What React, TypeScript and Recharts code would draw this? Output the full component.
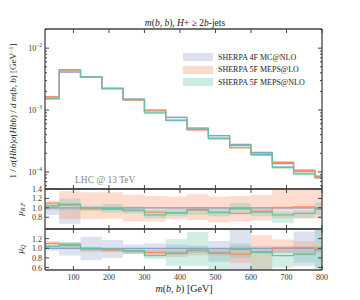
import React from "react";
import { Area, ComposedChart, Legend, Line, XAxis, YAxis } from "recharts";

const binEdges = [20, 60, 120, 180, 240, 300, 360, 420, 480, 540, 600, 660, 720, 780, 800];
const xTicks = [100, 200, 300, 400, 500, 600, 700, 800];

// normalised m(b,b) distribution, one value per bin
const sherpa4fMcNlo = [1.52e-3, 4.1e-3, 3.44e-3, 2.24e-3, 1.5e-3, 1.0e-3, 7.6e-4, 5.1e-4, 3.85e-4, 2.76e-4, 2.05e-4, 1.38e-4, 1.03e-4, 8.3e-5];
const sherpa5fMepsLo = [1.64e-3, 4.3e-3, 3.4e-3, 2.2e-3, 1.45e-3, 9.7e-4, 6.8e-4, 4.8e-4, 3.5e-4, 2.47e-4, 1.9e-4, 1.43e-4, 1.06e-4, 8.5e-5];
const sherpa5fMepsNlo = [1.55e-3, 4.5e-3, 3.44e-3, 2.24e-3, 1.48e-3, 9.0e-4, 6.8e-4, 4.9e-4, 3.45e-4, 2.7e-4, 1.9e-4, 1.19e-4, 9.3e-5, 8.1e-5];
// relative band half-widths in the top panel
const relErr4f = [0.03, 0.02, 0.02, 0.02, 0.03, 0.03, 0.04, 0.04, 0.04, 0.05, 0.05, 0.05, 0.06, 0.06];
const relErrLo = [0.03, 0.02, 0.02, 0.02, 0.03, 0.03, 0.03, 0.04, 0.04, 0.04, 0.05, 0.05, 0.05, 0.06];
const relErrNlo = [0.03, 0.02, 0.02, 0.02, 0.03, 0.03, 0.04, 0.04, 0.04, 0.05, 0.05, 0.06, 0.06, 0.06];

// ratios to SHERPA 4F MC@NLO
const ratio4f = [1, 1, 1, 1, 1, 1, 1, 1, 1, 1, 1, 1, 1, 1];
const ratioLo = [1.1, 1.06, 0.98, 0.97, 0.94, 0.91, 0.89, 0.95, 0.91, 0.88, 0.93, 1.01, 1.02, 1.0];
const ratioNlo = [1.04, 1.08, 1.0, 0.98, 0.95, 0.85, 0.9, 0.96, 0.9, 0.98, 0.91, 0.85, 0.88, 0.97];

// mu_R,F variation bands
const rf4fLow = [0.85, 0.66, 0.98, 0.98, 0.98, 0.98, 0.98, 0.98, 0.98, 0.98, 0.98, 0.97, 0.98, 0.98];
const rf4fHigh = [1.06, 1.0, 1.02, 1.03, 1.02, 1.02, 1.02, 1.02, 1.02, 1.02, 1.02, 1.02, 1.02, 1.02];
const rfLoLow = [0.95, 0.76, 0.76, 0.77, 0.71, 0.71, 0.76, 0.74, 0.69, 0.71, 0.73, 0.78, 0.78, 0.77];
const rfLoHigh = [1.15, 1.35, 1.33, 1.33, 1.28, 1.25, 1.24, 1.29, 1.24, 1.25, 1.27, 1.45, 1.45, 1.45];
const rfNloLow = [0.98, 0.95, 0.93, 0.9, 0.88, 0.78, 0.82, 0.85, 0.82, 0.86, 0.82, 0.68, 0.78, 0.85];
const rfNloHigh = [1.1, 1.2, 1.05, 1.08, 1.03, 0.96, 0.98, 1.02, 1.0, 1.1, 1.0, 0.92, 0.95, 1.12];

// mu_Q variation bands
const q4fLow = [0.95, 0.85, 0.75, 0.8, 0.88, 0.9, 0.88, 0.9, 0.72, 0.5, 0.95, 0.9, 0.63, 0.6];
const q4fHigh = [1.02, 1.12, 1.24, 1.17, 1.08, 1.1, 1.08, 1.06, 1.15, 1.45, 1.05, 1.05, 1.35, 1.4];
const qLoLow = [1.05, 0.98, 0.92, 0.92, 0.88, 0.85, 0.82, 0.85, 0.85, 0.7, 0.5, 0.9, 0.85, 0.9];
const qLoHigh = [1.15, 1.12, 1.02, 1.0, 0.98, 0.98, 0.96, 1.02, 1.0, 1.05, 1.27, 1.18, 1.15, 1.05];
const qNloLow = [1.0, 1.02, 0.95, 0.93, 0.9, 0.78, 0.64, 0.64, 0.5, 0.8, 0.5, 0.6, 0.7, 0.5];
const qNloHigh = [1.08, 1.12, 1.02, 1.0, 0.98, 0.96, 1.19, 1.34, 0.98, 1.1, 0.98, 0.98, 1.0, 1.45];

const BLUE = "#8da0cb";
const ORANGE = "#fc8d62";
const GREEN = "#66c2a5";
const INK = "#444";
const FONT = "'Liberation Serif', 'DejaVu Serif', serif";

// plot frame in page pixels
const LEFT = 45;
const RIGHT = 322;
const W = 360;
const H = 300;

const nBins = sherpa4fMcNlo.length;
const bin = (i: number) => Math.min(i, nBins - 1);

const mainRows = binEdges.map((x, i) => {
  const j = bin(i);
  return {
    x,
    a: sherpa4fMcNlo[j],
    b: sherpa5fMepsLo[j],
    c: sherpa5fMepsNlo[j],
    aBand: [sherpa4fMcNlo[j] * (1 - relErr4f[j]), sherpa4fMcNlo[j] * (1 + relErr4f[j])],
    bBand: [sherpa5fMepsLo[j] * (1 - relErrLo[j]), sherpa5fMepsLo[j] * (1 + relErrLo[j])],
    cBand: [sherpa5fMepsNlo[j] * (1 - relErrNlo[j]), sherpa5fMepsNlo[j] * (1 + relErrNlo[j])],
  };
});

const ratioRows = (lo4f: number[], hi4f: number[], loLo: number[], hiLo: number[], loNlo: number[], hiNlo: number[]) =>
  binEdges.map((x, i) => {
    const j = bin(i);
    return {
      x,
      a: ratio4f[j],
      b: ratioLo[j],
      c: ratioNlo[j],
      aBand: [lo4f[j], hi4f[j]],
      bBand: [loLo[j], hiLo[j]],
      cBand: [loNlo[j], hiNlo[j]],
    };
  });

const rfRows = ratioRows(rf4fLow, rf4fHigh, rfLoLow, rfLoHigh, rfNloLow, rfNloHigh);
const qRows = ratioRows(q4fLow, q4fHigh, qLoLow, qLoHigh, qNloLow, qNloHigh);

const logTicks: number[] = [];
[-5, -4, -3, -2].forEach((e) => {
  for (let m = 1; m < 10; m++) {
    const v = m * Math.pow(10, e);
    if (v >= 5.5e-5 && v <= 2.0e-2) logTicks.push(v);
  }
});

const isDecade = (v: number) => Math.abs(Math.log10(v) - Math.round(Math.log10(v))) < 1e-6;

const tickText = { fontSize: 8, fontFamily: FONT, fill: "#333" };

const bottomTick = (label: boolean) => (p: any) => (
  <g>
    <line x1={p.x} x2={p.x} y1={p.y} y2={p.y - 4} stroke={INK} />
    {label && (
      <text x={p.x} y={p.y + 10} textAnchor="middle" {...tickText}>
        {p.payload.value}
      </text>
    )}
  </g>
);
const topTick = (p: any) => <line x1={p.x} x2={p.x} y1={p.y} y2={p.y + 4} stroke={INK} />;

const logLeftTick = (p: any) => {
  const v = p.payload.value;
  const major = isDecade(v);
  return (
    <g>
      <line x1={p.x} x2={p.x + (major ? 4 : 2)} y1={p.y} y2={p.y} stroke={INK} />
      {major && (
        <text x={p.x - 3} y={p.y + 3} textAnchor="end" {...tickText}>
          <tspan>10</tspan>
          <tspan dy={-4} fontSize={5.5}>{"\u2212" + Math.abs(Math.round(Math.log10(v)))}</tspan>
        </text>
      )}
    </g>
  );
};
const logRightTick = (p: any) => {
  const major = isDecade(p.payload.value);
  return <line x1={p.x} x2={p.x - (major ? 4 : 2)} y1={p.y} y2={p.y} stroke={INK} />;
};

const ratioLeftTick = (p: any) => (
  <g>
    <line x1={p.x} x2={p.x + 4} y1={p.y} y2={p.y} stroke={INK} />
    <text x={p.x - 3} y={p.y + 3} textAnchor="end" {...tickText}>
      {Number(p.payload.value).toFixed(1)}
    </text>
  </g>
);
const ratioRightTick = (p: any) => <line x1={p.x} x2={p.x - 4} y1={p.y} y2={p.y} stroke={INK} />;

const legendItems = [
  { name: "SHERPA 4F MC@NLO", color: BLUE },
  { name: "SHERPA 5F MEPS@LO", color: ORANGE },
  { name: "SHERPA 5F MEPS@NLO", color: GREEN },
];

const axisLine = { stroke: INK, strokeWidth: 1.3 };

function renderSeries(op: number) {
  return [
    <Area key="ab" dataKey="aBand" type="stepAfter" stroke="none" fill={BLUE} fillOpacity={op} isAnimationActive={false} />,
    <Area key="bb" dataKey="bBand" type="stepAfter" stroke="none" fill={ORANGE} fillOpacity={op} isAnimationActive={false} />,
    <Area key="cb" dataKey="cBand" type="stepAfter" stroke="none" fill={GREEN} fillOpacity={op} isAnimationActive={false} />,
    <Line key="a" dataKey="a" type="stepAfter" stroke={BLUE} strokeWidth={1.3} dot={false} activeDot={false} isAnimationActive={false} />,
    <Line key="b" dataKey="b" type="stepAfter" stroke={ORANGE} strokeWidth={1.3} dot={false} activeDot={false} isAnimationActive={false} />,
    <Line key="c" dataKey="c" type="stepAfter" stroke={GREEN} strokeWidth={1.3} dot={false} activeDot={false} isAnimationActive={false} />,
  ];
}

// top and bottom x axes; their heights place the plot frame vertically
function xAxes(top: number, bottom: number, labels: boolean) {
  return [
    <XAxis key="xb" dataKey="x" type="number" domain={[20, 800]} ticks={xTicks} interval={0} allowDataOverflow
      height={H - bottom} tickSize={0} tickMargin={0} tickLine={false} axisLine={axisLine} tick={bottomTick(labels)} />,
    <XAxis key="xt" xAxisId="t" orientation="top" dataKey="x" type="number" domain={[20, 800]} ticks={xTicks}
      interval={0} allowDataOverflow height={top} tickSize={0} tickMargin={0} tickLine={false} axisLine={axisLine}
      tick={topTick} />,
  ];
}

function yAxes(props: any, leftTick: any, rightTick: any) {
  return [
    <YAxis key="yl" {...props} width={LEFT} tickSize={0} tickMargin={0} tickLine={false} axisLine={axisLine}
      tick={leftTick} />,
    <YAxis key="yr" yAxisId="r" orientation="right" {...props} width={W - RIGHT} tickSize={0} tickMargin={0}
      tickLine={false} axisLine={axisLine} tick={rightTick} />,
  ];
}

const zeroMargin = { top: 0, right: 0, bottom: 0, left: 0 };

function RatioPanel({ rows, top, bottom, ticks, showBottom }: { rows: any[]; top: number; bottom: number; ticks: number[]; showBottom: boolean }) {
  const yProps = { type: "number", domain: [0.55, 1.4], ticks, interval: 0, allowDataOverflow: true };
  return (
    <div style={{ position: "absolute", left: 0, top: 0 }}>
      <ComposedChart width={W} height={H} data={rows} margin={zeroMargin}>
        {xAxes(top, bottom, showBottom)}
        {yAxes(yProps, ratioLeftTick, ratioRightTick)}
        {renderSeries(0.3)}
      </ComposedChart>
    </div>
  );
}

export default function App() {
  const it = { fontStyle: "italic" as const };
  const logProps = { type: "number", scale: "log", domain: [5.3e-5, 2.04e-2], ticks: logTicks, interval: 0, allowDataOverflow: true };
  return (
    <div style={{ position: "absolute", left: 0, top: 0, width: W, height: H, background: "#fff", fontFamily: FONT }}>
      <div style={{ position: "absolute", left: 0, top: 0 }}>
        <ComposedChart width={W} height={H} data={mainRows} margin={zeroMargin}>
          {xAxes(29, 189, false)}
          {yAxes(logProps, logLeftTick, logRightTick)}
          {renderSeries(0.35)}
          <Legend
            layout="vertical"
            verticalAlign="middle"
            align="center"
            wrapperStyle={{ left: 183, top: 51, width: 140 }}
            content={() => (
              <div style={{ fontFamily: FONT, fontSize: 8, color: "#222" }}>
                {legendItems.map((item) => (
                  <div key={item.name} style={{ display: "flex", alignItems: "center", height: 12.5 }}>
                    <span style={{ display: "inline-block", width: 30, height: 8, background: item.color, opacity: 0.32, marginRight: 5 }} />
                    <span>{item.name}</span>
                  </div>
                ))}
              </div>
            )}
          />
        </ComposedChart>
      </div>
      <RatioPanel rows={rfRows} top={189} bottom={229} ticks={[0.8, 1.0, 1.2, 1.4]} showBottom={false} />
      <RatioPanel rows={qRows} top={229} bottom={270} ticks={[0.6, 0.8, 1.0, 1.2]} showBottom={true} />
      <svg width={W} height={H} style={{ position: "absolute", left: 0, top: 0, pointerEvents: "none" }}>
        <text x={185} y={26} textAnchor="middle" fontSize={9.5} fill="#222" fontFamily={FONT}>
          <tspan {...it}>m</tspan>(<tspan {...it}>b</tspan>, <tspan {...it}>b</tspan>), <tspan {...it}>H</tspan>+ ≥ 2
          <tspan {...it}>b</tspan>-jets
        </text>
        <text x={75} y={183} fontSize={9.5} fill="#888" fontFamily={FONT}>LHC @ 13 TeV</text>
        <text transform="translate(16,111) rotate(-90)" textAnchor="middle" fontSize={9} fill="#222" fontFamily={FONT}>
          1 / <tspan {...it}>σ</tspan>(<tspan {...it}>Hbb</tspan>)<tspan {...it}>σ</tspan>(<tspan {...it}>Hbb</tspan>) /{" "}
          <tspan {...it}>d m</tspan>(<tspan {...it}>b</tspan>, <tspan {...it}>b</tspan>) [GeV
          <tspan dy={-3.5} fontSize={6}>−1</tspan>
          <tspan dy={3.5}>]</tspan>
        </text>
        <text transform="translate(23,209) rotate(-90)" textAnchor="middle" fontSize={9} fill="#222" fontFamily={FONT}>
          <tspan {...it}>μ</tspan>
          <tspan dy={2} fontSize={6} {...it}>R,F</tspan>
        </text>
        <text transform="translate(23,249) rotate(-90)" textAnchor="middle" fontSize={9} fill="#222" fontFamily={FONT}>
          <tspan {...it}>μ</tspan>
          <tspan dy={2} fontSize={6} {...it}>Q</tspan>
        </text>
        <text x={184} y={292} textAnchor="middle" fontSize={10} fill="#222" fontFamily={FONT}>
          <tspan {...it}>m</tspan>(<tspan {...it}>b</tspan>, <tspan {...it}>b</tspan>) [GeV]
        </text>
      </svg>
    </div>
  );
}
